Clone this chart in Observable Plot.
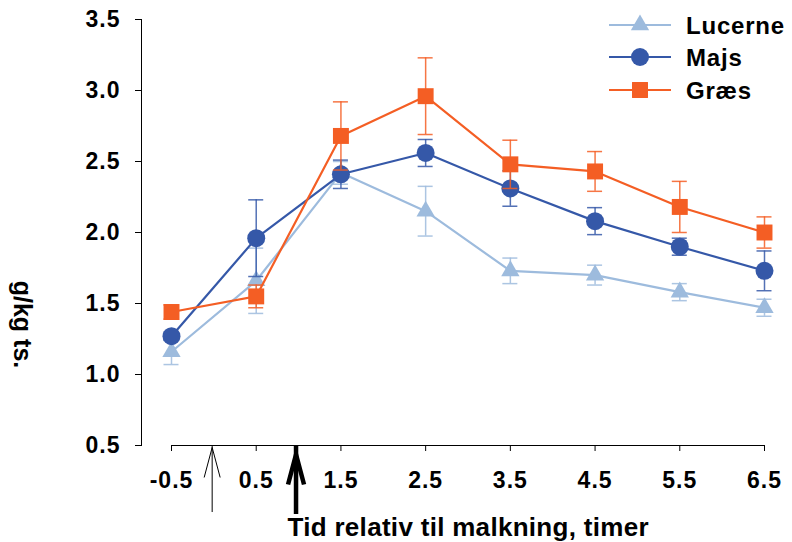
<!DOCTYPE html>
<html><head><meta charset="utf-8">
<script src="https://cdn.jsdelivr.net/npm/d3@7"></script>
<script src="https://cdn.jsdelivr.net/npm/@observablehq/plot@0.6"></script>
<style>body{margin:0;background:#fff}</style>
</head><body><div id="chart"></div>
<script>
// ---- data ----
const hours = [-0.5, 0.5, 1.5, 2.5, 3.5, 4.5, 5.5, 6.5];
const seriesNames = ["Lucerne", "Majs", "Græs"];
const lucerne    = [1.16, 1.66, 2.42, 2.15, 1.73, 1.70, 1.58, 1.47];
const lucerneErr = [0.09, 0.23, 0.08, 0.175, 0.09, 0.07, 0.06, 0.06];
const majs       = [1.27, 1.96, 2.41, 2.56, 2.31, 2.08, 1.90, 1.73];
const majsErr    = [0.03, 0.27, 0.10, 0.095, 0.125, 0.095, 0.06, 0.14];
const graes      = [1.44, 1.55, 2.68, 2.96, 2.48, 2.43, 2.18, 2.00];
const graesErr   = [0.05, 0.08, 0.24, 0.27, 0.17, 0.14, 0.18, 0.11];
const xTicks = [-0.5, 0.5, 1.5, 2.5, 3.5, 4.5, 5.5, 6.5];
const yTicks = [0.5, 1.0, 1.5, 2.0, 2.5, 3.0, 3.5];
const yTitle = "g/kg ts.";
const xTitle = "Tid relativ til malkning, timer";
// arrows below the x axis (hour position, tip value, tail value)
const arrowHours = [-0.02, 0.97];
const arrowTips  = [0.493, 0.493];
const arrowTails = [0.028, 0.014];

// ---- styles ----
const colors  = ["#9dbbdd", "#3558a8", "#f45e24"];
const symbols = [d3.symbolTriangle, d3.symbolCircle, d3.symbolSquare];
const radii   = [6.8, 9, 9];
const font = "'Liberation Sans', Arial, sans-serif";

const values = [lucerne, majs, graes];
const errors = [lucerneErr, majsErr, graesErr];
const rows = seriesNames.map((name, s) => hours.map((h, i) => ({
  series: name, hour: h, value: values[s][i], err: errors[s][i]
})));
const arrows = arrowHours.map((h, i) => ({hour: h, tip: arrowTips[i], tail: arrowTails[i]}));

const vHead = (apex) => ({draw(ctx) { ctx.moveTo(-8, apex + 30); ctx.lineTo(0, apex); ctx.lineTo(8, apex + 30); }});

const seriesMarks = rows.flatMap((data, s) => [
  Plot.ruleX(data, {x: "hour", y1: d => d.value - d.err, y2: d => d.value + d.err, stroke: colors[s], strokeWidth: 1.5, strokeOpacity: 0.85}),
  Plot.ruleY(data, {y: d => d.value + d.err, x1: "hour", x2: "hour", insetLeft: -7.5, insetRight: -7.5, stroke: colors[s], strokeWidth: 1.5, strokeOpacity: 0.85}),
  Plot.ruleY(data, {y: d => d.value - d.err, x1: "hour", x2: "hour", insetLeft: -7.5, insetRight: -7.5, stroke: colors[s], strokeWidth: 1.5, strokeOpacity: 0.85}),
  Plot.line(data, {x: "hour", y: "value", stroke: colors[s], strokeWidth: 2.2}),
  Plot.dot(data, {x: "hour", y: "value", symbol: symbols[s], r: radii[s], fill: colors[s]})
]);

const svg = Plot.plot({
  width: 792, height: 542,
  marginLeft: 141, marginRight: 28, marginTop: 19, marginBottom: 97,
  style: {fontFamily: font, fontWeight: "bold", color: "black", background: "white", overflow: "visible"},
  x: {domain: [xTicks[0], xTicks[xTicks.length - 1]], insetLeft: 30},
  y: {domain: [yTicks[0], yTicks[yTicks.length - 1]]},
  marks: [
    Plot.frame({anchor: "left", stroke: "black", strokeWidth: 1}),
    Plot.ruleY([yTicks[0]], {x1: xTicks[0], x2: xTicks[xTicks.length - 1], stroke: "black", strokeWidth: 1.2}),
    Plot.axisY({ticks: yTicks, tickFormat: d => d.toFixed(1), tickSize: 6, tickPadding: 15, fontSize: 23, fontWeight: "bold", label: null}),
    Plot.axisX({ticks: xTicks, tickFormat: d => d.toFixed(1), tickSize: 6, tickPadding: 20, fontSize: 23, fontWeight: "bold", label: null}),
    Plot.text([yTitle], {frameAnchor: "left", textAnchor: "middle", lineAnchor: "middle", rotate: 90, dx: -119.5, dy: 92, fontSize: 25, fontWeight: "bold"}),
    Plot.text([xTitle], {frameAnchor: "bottom-left", textAnchor: "start", lineAnchor: "middle", dx: 146, dy: 82, fontSize: 26, fontWeight: "bold"}),
    ...seriesMarks,
    // arrows
    Plot.ruleX([arrows[0]], {x: "hour", y1: "tail", y2: "tip", stroke: "black", strokeWidth: 1}),
    Plot.dot([arrows[0]], {x: "hour", y: "tip", symbol: vHead(1), fill: "none", stroke: "black", strokeWidth: 1}),
    Plot.ruleX([arrows[1]], {x: "hour", y1: "tail", y2: "tip", stroke: "black", strokeWidth: 4.5}),
    Plot.dot([arrows[1]], {x: "hour", y: "tip", symbol: vHead(8), fill: "none", stroke: "black", strokeWidth: 4.5, strokeLinejoin: "miter"})
  ]
});

const root = d3.select(svg);
root.selectAll("g[aria-label='y-axis tick label'] text, g[aria-label='x-axis tick label'] text").style("letter-spacing", "1px");
root.selectAll("text").filter(function() { return this.textContent === xTitle; }).style("letter-spacing", "0.3px");

// legend (top right, inside plot area)
const lg = root.append("g").attr("font-family", font).attr("font-weight", "bold").attr("font-size", 24).attr("text-anchor", "start");
const legendY = [25, 57, 90];
seriesNames.forEach((name, s) => {
  const g = lg.append("g").attr("transform", `translate(0,${legendY[s]})`);
  g.append("line").attr("x1", 609).attr("x2", 671).attr("stroke", colors[s]).attr("stroke-width", 2.2);
  g.append("path").attr("d", d3.symbol(symbols[s], Math.PI * radii[s] * radii[s])()).attr("transform", "translate(640,0)").attr("fill", colors[s]);
  g.append("text").attr("x", 686).attr("y", 8.5).attr("text-anchor", "start").style("letter-spacing", "0.8px").attr("fill", "black").text(name);
});

document.getElementById("chart").append(svg);
</script>
</body></html>
